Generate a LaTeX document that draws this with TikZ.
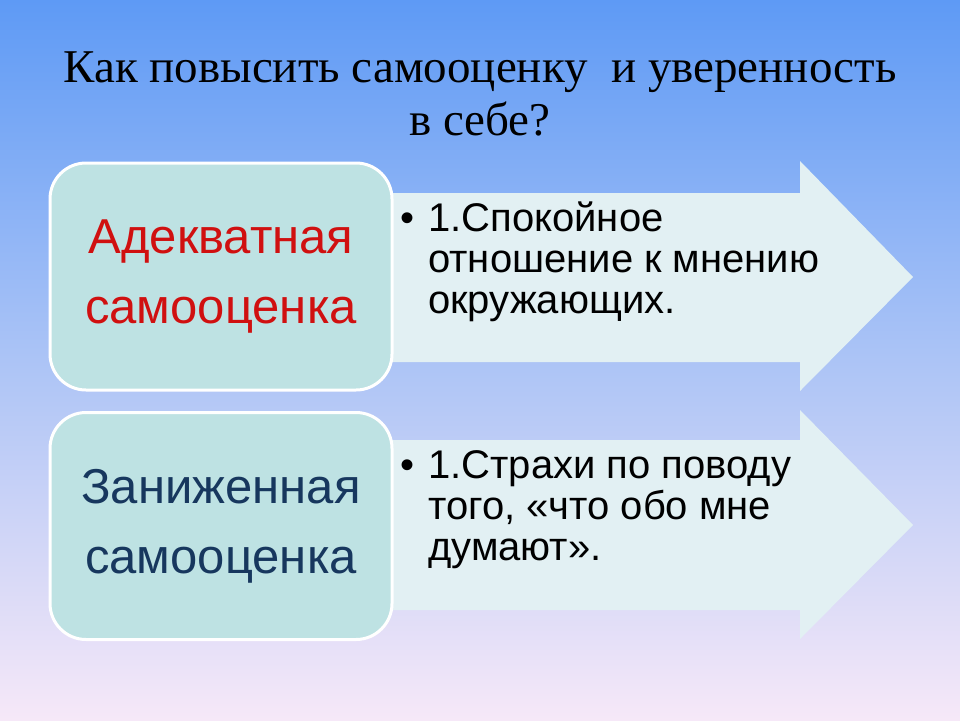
\documentclass[tikz,border=0pt]{standalone}
\usepackage{fontspec}
\setmainfont{Liberation Serif}
\newfontfamily\arialf{Liberation Sans}
\definecolor{bgtop}{RGB}{94,154,245}
\definecolor{bgmid}{RGB}{172,196,246}
\definecolor{bgbot}{RGB}{246,232,248}
\definecolor{boxfill}{RGB}{190,226,227}
\definecolor{arrowfill}{RGB}{226,240,243}
\definecolor{redtxt}{RGB}{208,16,16}
\definecolor{navytxt}{RGB}{23,55,94}
\tikzset{
  catbox/.style={draw=white, line width=3pt, fill=boxfill, rounded corners=36pt,
    minimum width=342pt, minimum height=227pt, inner sep=0pt,
    align=center, font=\arialf\fontsize{49}{70}\selectfont},
  bigarrow/.style={fill=arrowfill, draw=none},
  itemtxt/.style={anchor=base west, inner sep=0pt, font=\arialf\fontsize{40}{41}\selectfont, text=black},
  titletxt/.style={anchor=base, inner sep=0pt, font=\fontsize{47}{53}\selectfont, text=black}
}
\begin{document}
\begin{tikzpicture}[x=1pt,y=-1pt]
\useasboundingbox (0,0) rectangle (960,720);
\shade[top color=bgtop, bottom color=bgbot, middle color=bgmid] (0,0) rectangle (960,720);
% title
\node[titletxt] (title1) at (480,82) {Как повысить самооценку\ \ и уверенность};
\node[titletxt] (title2) at (480,135) {в себе?};
% arrows
\fill[bigarrow] (360,193) -- (800,193) -- (800,161) -- (913,277) -- (800,391) -- (800,362) -- (360,362) -- cycle;
\fill[bigarrow] (360,440) -- (800,440) -- (800,410) -- (913,525) -- (800,639) -- (800,610) -- (360,610) -- cycle;
% boxes
\node[catbox, text=redtxt] (box1) at (221,276.5) {Адекватная\\самооценка};
\node[catbox, text=navytxt] (box2) at (221,526) {Заниженная\\самооценка};
% items
\node[itemtxt] (b1) at (400,231) {•};
\node[itemtxt] (t1a) at (428,231) {1.Спокойное};
\node[itemtxt] (t1b) at (428,272) {отношение к мнению};
\node[itemtxt] (t1c) at (428,313) {окружающих.};
\node[itemtxt] (b2) at (400,478) {•};
\node[itemtxt] (t2a) at (428,478) {1.Страхи по поводу};
\node[itemtxt] (t2b) at (428,519) {того, «что обо мне};
\node[itemtxt] (t2c) at (428,560) {думают».};
\end{tikzpicture}
\end{document}
